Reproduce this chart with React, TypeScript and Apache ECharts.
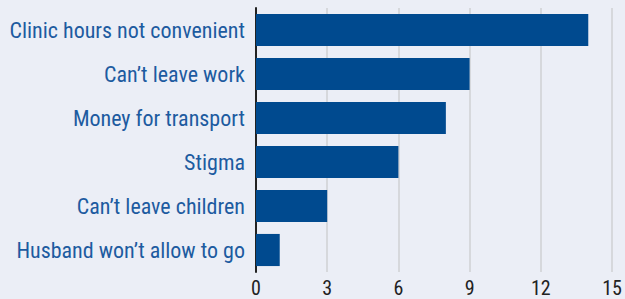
import React, { useEffect, useRef } from "react";
import * as echarts from "echarts";

const categories = [
  "Clinic hours not convenient",
  "Can’t leave work",
  "Money for transport",
  "Stigma",
  "Can’t leave children",
  "Husband won’t allow to go",
];
const values = [14, 9, 8, 6, 3, 1];
const xTicks = [0, 3, 6, 9, 12, 15];

const FONT = "Roboto Condensed, Roboto, sans-serif";

export default function App() {
  const ref = useRef<HTMLDivElement>(null);
  useEffect(() => {
    document.body.style.margin = "0";
    const chart = echarts.init(ref.current!, null, { renderer: "svg" });
    chart.setOption({
      animation: false,
      backgroundColor: "#ebeef6",
      grid: { left: 256, right: 13, top: 8, bottom: 27, containLabel: false },
      xAxis: {
        type: "value",
        min: xTicks[0],
        max: xTicks[xTicks.length - 1],
        interval: 3,
        axisLine: { show: false },
        axisTick: { show: false },
        splitLine: { show: true, lineStyle: { color: "#d6d8dc", width: 2 } },
        axisLabel: {
          color: "#222",
          fontSize: 20,
          fontFamily: FONT,
          margin: 6,
        },
      },
      yAxis: {
        type: "category",
        data: categories.slice().reverse(),
        axisLine: { show: true, lineStyle: { color: "#222", width: 2 } },
        axisTick: { show: false },
        axisLabel: {
          color: "#1d5ba0",
          fontSize: 22,
          fontFamily: FONT,
          margin: 11,
        },
      },
      series: [
        {
          type: "bar",
          data: values.slice().reverse(),
          barCategoryGap: "27%",
          itemStyle: { color: "#004a8f" },
        },
      ],
    });
    return () => chart.dispose();
  }, []);
  return <div ref={ref} style={{ width: 625, height: 299 }} />;
}
